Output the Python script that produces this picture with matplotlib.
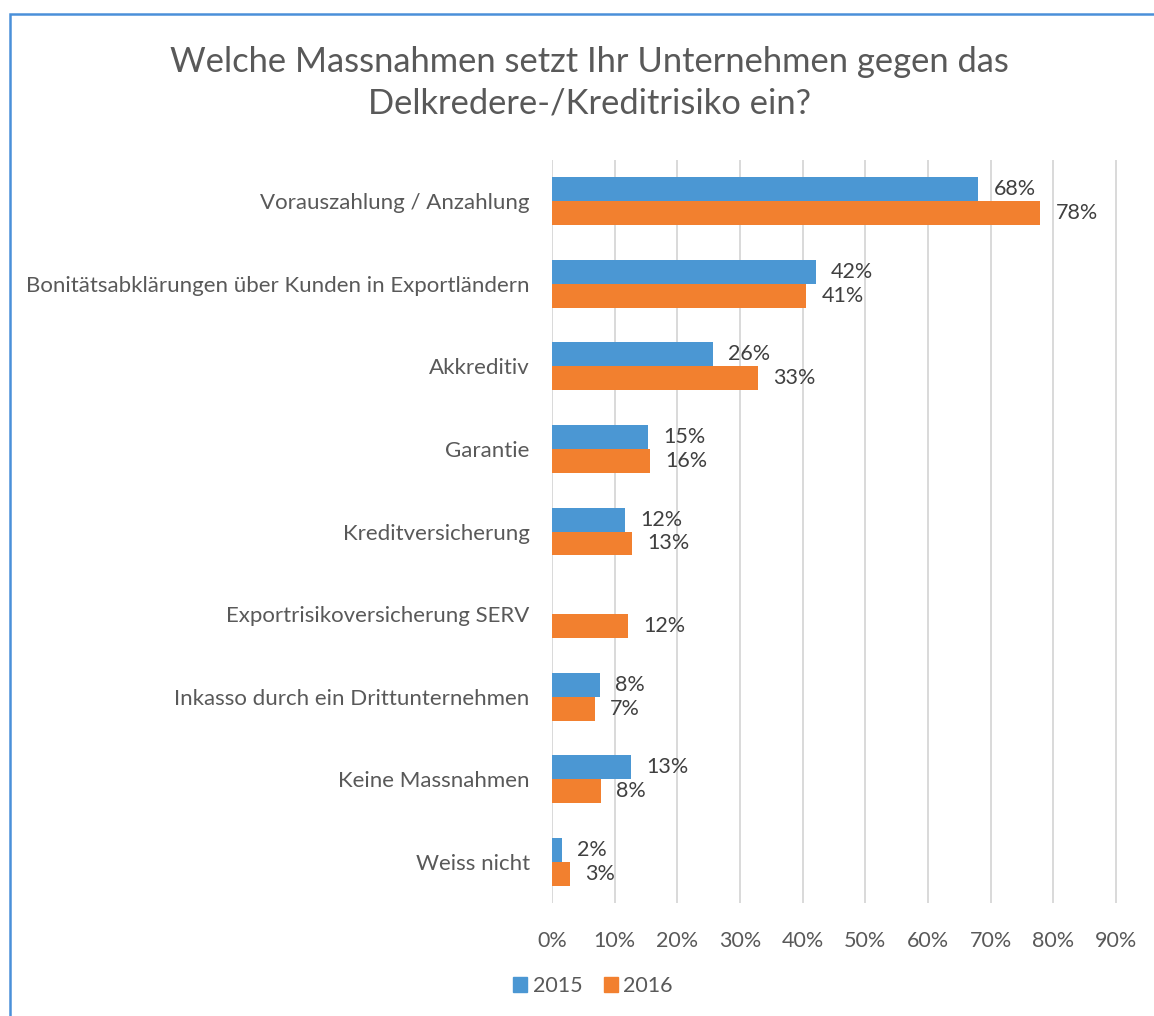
"""Massnahmen gegen das Delkredere-/Kreditrisiko, 2015 vs 2016."""

import matplotlib

matplotlib.use("Agg")
import matplotlib.pyplot as plt
import numpy as np
from matplotlib.patches import Patch, Rectangle

CATEGORIES = [
    "Vorauszahlung / Anzahlung",
    "Bonitätsabklärungen über Kunden in Exportländern",
    "Akkreditiv",
    "Garantie",
    "Kreditversicherung",
    "Exportrisikoversicherung SERV",
    "Inkasso durch ein Drittunternehmen",
    "Keine Massnahmen",
    "Weiss nicht",
]
VALUES_2015 = [68.0, 42.1, 25.7, 15.3, 11.6, np.nan, 7.6, 12.6, 1.6]
VALUES_2016 = [77.9, 40.6, 32.8, 15.6, 12.8, 12.1, 6.8, 7.8, 2.8]
SERIES = ["2015", "2016"]
X_TICKS = [0, 10, 20, 30, 40, 50, 60, 70, 80, 90]

BLUE = "#4B97D3"
ORANGE = "#F2802F"
TEXT = "#595959"
LABEL = "#404040"
GRID = "#D9D9D9"

plt.rcParams["font.family"] = ["Lato", "DejaVu Sans"]


def main() -> None:
    fig = plt.figure(figsize=(11.54, 10.16), dpi=100)
    ax = fig.add_axes([0.4783, 0.1112, 0.4905, 0.7313])

    n = len(CATEGORIES)
    y = np.arange(n)
    height = 0.29
    ax.barh(y - height / 2, VALUES_2015, height=height, color=BLUE, zorder=3)
    ax.barh(y + height / 2, VALUES_2016, height=height, color=ORANGE, zorder=3)

    for values, offset in ((VALUES_2015, -height / 2), (VALUES_2016, height / 2)):
        for pos, value in zip(y, values):
            if np.isnan(value):
                continue
            ax.annotate(
                f"{round(value)}%",
                xy=(value, pos + offset),
                xytext=(11, 0),
                textcoords="offset points",
                va="center",
                ha="left",
                fontsize=15.5,
                color=LABEL,
            )

    ax.set_xlim(0, 90.3)
    ax.set_ylim(n - 0.5, -0.5)
    ax.set_xticks(X_TICKS)
    ax.set_xticklabels([f"{tick}%" for tick in X_TICKS])
    ax.set_yticks(y)
    ax.set_yticklabels(CATEGORIES)
    ax.tick_params(axis="x", length=0, pad=20, labelsize=15.5, labelcolor=TEXT)
    ax.tick_params(axis="y", length=0, pad=16, labelsize=16, labelcolor=TEXT)
    ax.grid(axis="x", color=GRID, linewidth=1.4, zorder=0)
    for spine in ax.spines.values():
        spine.set_visible(False)

    fig.text(
        0.511,
        0.939,
        "Welche Massnahmen setzt Ihr Unternehmen gegen das",
        ha="center",
        va="center",
        fontsize=24.8,
        color=TEXT,
    )
    fig.text(
        0.511,
        0.898,
        "Delkredere-/Kreditrisiko ein?",
        ha="center",
        va="center",
        fontsize=24.8,
        color=TEXT,
    )

    handles = [Patch(color=BLUE), Patch(color=ORANGE)]
    fig.legend(
        handles,
        SERIES,
        loc="center",
        bbox_to_anchor=(0.514, 0.0295),
        ncol=2,
        frameon=False,
        fontsize=15.5,
        labelcolor=TEXT,
        handlelength=0.65,
        handleheight=0.65,
        handletextpad=0.25,
        columnspacing=1.0,
    )

    fig.patches.append(
        Rectangle(
            (9.5 / 1154, -0.05),
            1.1,
            1.05 - 13.5 / 1016,
            transform=fig.transFigure,
            fill=False,
            edgecolor="#4A90D9",
            linewidth=1.8,
        )
    )

    fig.savefig("out.png", dpi=100)
    plt.close(fig)


if __name__ == "__main__":
    main()
